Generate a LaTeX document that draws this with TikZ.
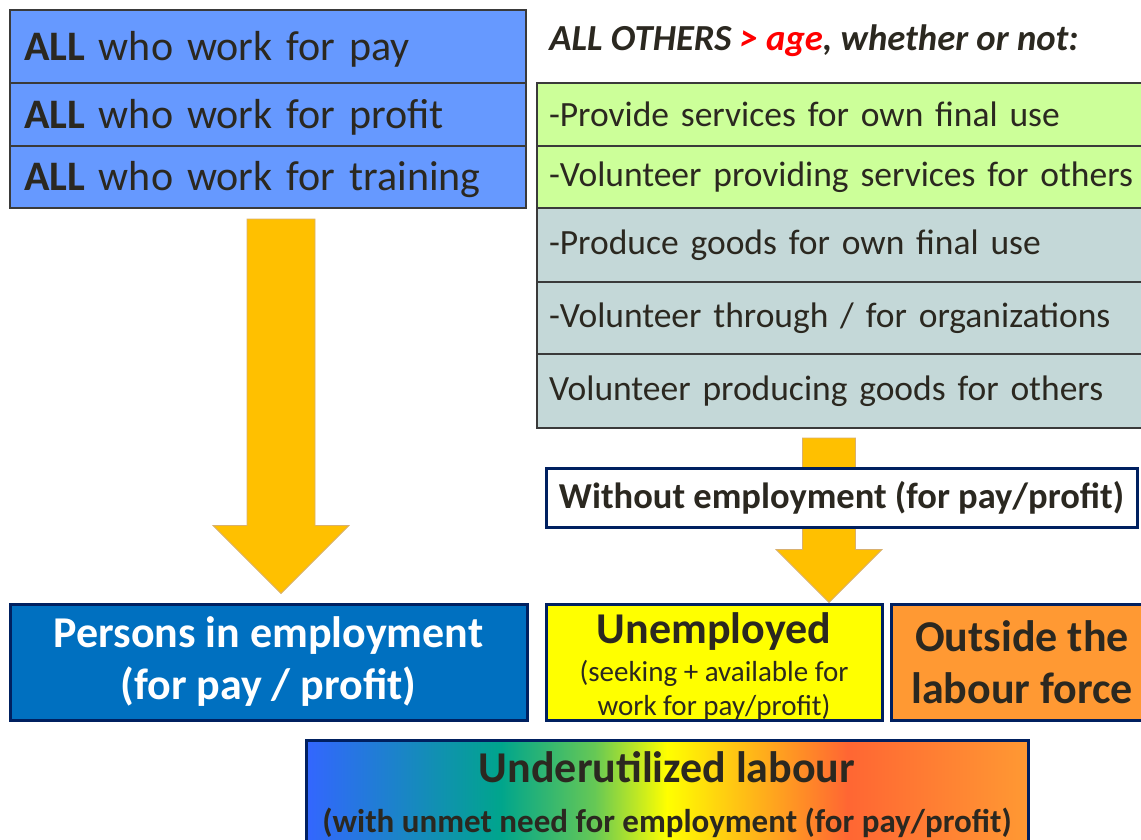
\documentclass[tikz,border=0pt]{standalone}
\usepackage{fontspec}
\setmainfont{Carlito}
\usetikzlibrary{positioning,calc}

\definecolor{rowblue}{HTML}{6699FF}
\definecolor{rowgreen}{HTML}{CCFF99}
\definecolor{rowgrey}{HTML}{C4D8D8}
\definecolor{rowline}{HTML}{3A3A3A}
\definecolor{arrowgold}{HTML}{FFC000}
\definecolor{arrowedge}{HTML}{D8B070}
\definecolor{empblue}{HTML}{0070C0}
\definecolor{navy}{HTML}{002060}
\definecolor{unempyellow}{HTML}{FFFF00}
\definecolor{outorange}{HTML}{FF9933}
\definecolor{txt}{HTML}{2B2820}
\definecolor{agered}{HTML}{FF0000}
\definecolor{shadeA}{HTML}{3366FF}
\definecolor{shadeB}{HTML}{00A58C}
\definecolor{shadeC}{HTML}{66C855}
\definecolor{shadeD}{HTML}{FFFF00}
\definecolor{shadeE}{HTML}{FF6633}
\definecolor{shadeF}{HTML}{FF9933}

\pgfdeclarehorizontalshading{underused}{100bp}{color(0bp)=(shadeA); color(25bp)=(shadeA);
  color(38.5bp)=(shadeB); color(45bp)=(shadeC); color(50bp)=(shadeD);
  color(62.5bp)=(shadeE); color(75bp)=(shadeF); color(100bp)=(shadeF)}

\pgfdeclarelayer{background}
\pgfsetlayers{background,main}

\begin{document}
\begin{tikzpicture}[x=1pt,y=-1pt,thick]
\tikzstyle{leftrow}=[rectangle,draw=rowline,line width=1.2pt,outer sep=0pt,fill=rowblue,minimum width=516pt,text width=488pt,inner xsep=14pt,align=left,text=txt,font=\fontsize{42}{50}\selectfont]
\tikzstyle{rightrow}=[rectangle,draw=rowline,line width=1.2pt,outer sep=0pt,minimum width=724pt,text width=700pt,inner xsep=12pt,align=left,text=txt,font=\fontsize{35.5}{44}\selectfont]
\tikzstyle{outbox}=[rectangle,draw=navy,line width=3pt,text=txt,align=center]
\tikzstyle{goldarrow}=[fill=arrowgold,draw=arrowedge,line width=0.8pt]
\tikzset{blockarrow/.style={to path={let \p1=(\tikztostart), \p2=(\tikztotarget) in
  (\x1-#1,\y1) -- (\x1+#1,\y1) -- (\x1+#1,\y2+2*#1) -- (\x1+2*#1,\y2+2*#1) -- (\x1,\y2)
  -- (\x1-2*#1,\y2+2*#1) -- (\x1-#1,\y2+2*#1) -- cycle}}}
\useasboundingbox (0,0) rectangle (1141,840);
\clip (0,0) rectangle (1141,840);

% left column
\node[leftrow,anchor=north west,minimum height=73pt,text height=34pt] (pay) at (10,10) {\textbf{ALL} who work for pay};
\node[leftrow,minimum height=63pt,text height=34pt] (profit) [below = 0pt of pay] {\textbf{ALL} who work for profit};
\node[leftrow,minimum height=62pt,text height=34pt] (training) [below = 0pt of profit] {\textbf{ALL} who work for training};

% right column
\node[anchor=west,inner sep=0pt,text=txt,font=\fontsize{36.7}{40}\selectfont\bfseries\itshape] (header) at (549,41) {ALL OTHERS \textcolor{agered}{> age}, whether or not:};
\node[rightrow,fill=rowgreen,anchor=north west,minimum height=63pt] (ownserv) at (537,83) {-Provide services for own final use};
\node[rightrow,fill=rowgreen,minimum height=62pt] (volserv) [below = 0pt of ownserv] {-Volunteer providing services for others};
\node[rightrow,fill=rowgrey,minimum height=74pt] (owngoods) [below = 0pt of volserv] {-Produce goods for own final use};
\node[rightrow,fill=rowgrey,minimum height=72pt] (volorg) [below = 0pt of owngoods] {-Volunteer through / for organizations};
\node[rightrow,fill=rowgrey,minimum height=74pt] (volgoods) [below = 0pt of volorg] {Volunteer producing goods for others};

\node[outbox,fill=white,minimum width=591pt,minimum height=59pt,font=\fontsize{36.5}{40}\selectfont\bfseries] (without) at (841.5,497.5) {Without employment (for pay/profit)};

% outcomes
\node[outbox,fill=empblue,text=white,minimum width=517pt,minimum height=116pt,font=\fontsize{44}{52}\selectfont\bfseries] (emp) at (268.5,662) {Persons in employment\\(for pay / profit)};
\node[outbox,fill=unempyellow,minimum width=336pt,minimum height=116pt,inner ysep=0pt,font=\fontsize{29}{34}\selectfont] (unemp) at (714,662) {{\fontsize{44}{44}\selectfont\bfseries\rule{0pt}{39pt}Unemployed}\\[4pt](seeking + available for\\work for pay/profit)};
\node[outbox,fill=outorange,minimum width=262pt,minimum height=116pt,font=\fontsize{44}{52}\selectfont\bfseries] (outside) at (1022,662) {Outside the\\labour force};
\node[outbox,shading=underused,minimum width=722pt,minimum height=110pt,font=\fontsize{33}{50}\selectfont\bfseries] (underused) at (667,795) {{\fontsize{44}{50}\selectfont Underutilized labour}\\(with unmet need for employment (for pay/profit)};

% arrows
\coordinate (la) at (281,219);
\coordinate (ra) at (829,438);
\begin{pgfonlayer}{background}
\draw[goldarrow,blockarrow=34pt] (la) to ($(la |- emp.north)+(0,-9)$);
\draw[goldarrow,blockarrow=26.5pt] (ra) to (ra |- unemp.north);
\end{pgfonlayer}
\end{tikzpicture}
\end{document}
